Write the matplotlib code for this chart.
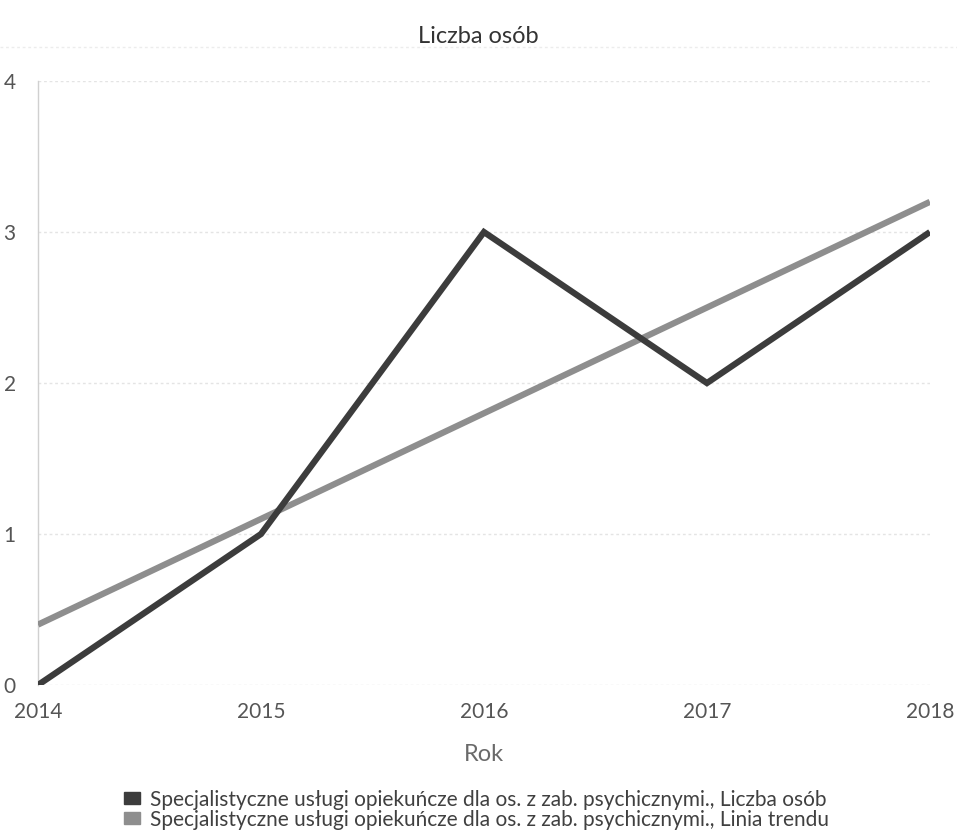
import matplotlib
matplotlib.use("Agg")
import matplotlib.pyplot as plt
from matplotlib.patches import Patch
from matplotlib.lines import Line2D

plt.rcParams['font.family'] = ['Lato', 'DejaVu Sans']

years = [2014, 2015, 2016, 2017, 2018]
liczba_osob = [0, 1, 3, 2, 3]
linia_trendu = [0.4, 1.1, 1.8, 2.5, 3.2]
y_ticks = [0, 1, 2, 3, 4]
series_labels = [
    "Specjalistyczne usługi opiekuńcze dla os. z zab. psychicznymi., Liczba osób",
    "Specjalistyczne usługi opiekuńcze dla os. z zab. psychicznymi., Linia trendu",
]
title = "Liczba osób"
xlabel = "Rok"

c_dark = "#3c3c3c"
c_trend = "#8e8e8e"

fig = plt.figure(figsize=(9.57, 8.4), dpi=100)
ax = fig.add_axes([0.0397, 0.1845, 0.932, 0.719])

ax.plot(years, linia_trendu, color=c_trend, lw=4.5, solid_capstyle='butt', zorder=3)
ax.plot(years, liczba_osob, color=c_dark, lw=4.5, solid_capstyle='butt',
        solid_joinstyle='miter', zorder=4)

ax.set_xlim(2014, 2018)
ax.set_ylim(0, 4)
ax.set_xticks(years)
ax.set_xticklabels([str(y) for y in years])
ax.set_yticks(y_ticks)
ax.grid(axis='y', color='#e4e4e4', lw=1, ls=(0, (2, 2)))
ax.grid(axis='x', visible=False)
for s in ['top', 'right', 'bottom']:
    ax.spines[s].set_visible(False)
ax.spines['left'].set_color('#d0d0d0')
ax.spines['left'].set_linewidth(1)
ax.tick_params(axis='both', length=0, labelsize=15, labelcolor='#555555')
ax.tick_params(axis='x', pad=12)
ax.tick_params(axis='y', pad=16)
ax.set_xlabel(xlabel, fontsize=17, color='#6a6a6a', labelpad=16)

fig.text(0.5, 0.957, title, ha='center', va='center', fontsize=17, color='#333333')
fig.add_artist(Line2D([0.0, 1.0], [0.944, 0.944], transform=fig.transFigure,
                      color='#ececec', lw=1, ls=(0, (2, 2))))

handles = [Patch(facecolor=c_dark, edgecolor=c_dark),
           Patch(facecolor=c_trend, edgecolor=c_trend)]
leg = fig.legend(handles, series_labels, loc='upper left',
                 bbox_to_anchor=(0.130, 0.060), bbox_transform=fig.transFigure,
                 frameon=False, fontsize=15, handlelength=0.75, handleheight=0.5,
                 handletextpad=0.5, labelspacing=0.0, borderaxespad=0,
                 borderpad=0)
for t in leg.get_texts():
    t.set_color('#404040')

fig.savefig("out.png", dpi=100, facecolor='white')
